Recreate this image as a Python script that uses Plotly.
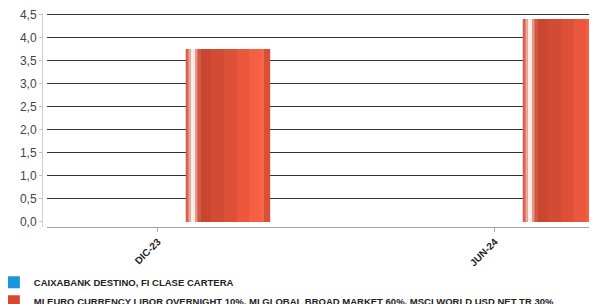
import plotly.graph_objects as go

categories = ["DIC-23", "JUN-24"]
series_names = ["CAIXABANK DESTINO, FI CLASE CARTERA",
                "MI EURO CURRENCY LIBOR OVERNIGHT 10%, MI GLOBAL BROAD MARKET 60%, MSCI WORLD USD NET TR 30%"]
fund_values = [None, None]
benchmark_values = [3.76, 4.41]
y_ticks = [0, 0.5, 1.0, 1.5, 2.0, 2.5, 3.0, 3.5, 4.0, 4.5]

BAR_OFF = 0.083
BAR_W = 0.25
# gradient strips (start fraction, end fraction, colour)
strips = [
    (0.00, 0.03, "#d8604f"),
    (0.03, 0.06, "#eca69c"),
    (0.06, 0.11, "#fdeeea"),
    (0.11, 0.14, "#e99a8c"),
    (0.14, 0.18, "#d05a45"),
    (0.18, 0.30, "#c94631"),
    (0.30, 0.45, "#d24b34"),
    (0.45, 0.60, "#dd5038"),
    (0.60, 0.75, "#ea573c"),
    (0.75, 0.87, "#f65f43"),
    (0.87, 0.93, "#f96547"),
    (0.93, 1.00, "#d9503a"),
]

fig = go.Figure()
fig.add_trace(go.Bar(x=categories, y=fund_values, name=series_names[0],
                     marker=dict(color="#1a96dc", line=dict(width=0)),
                     offset=BAR_OFF - BAR_W, width=BAR_W))
fig.add_trace(go.Bar(x=categories, y=benchmark_values, name=series_names[1],
                     marker=dict(color="#d9472f", line=dict(width=0)),
                     offset=BAR_OFF, width=BAR_W, hoverinfo="y"))
for a, b, c in strips:
    fig.add_trace(go.Bar(x=categories, y=benchmark_values, showlegend=False,
                         marker=dict(color=c, line=dict(width=0)),
                         offset=BAR_OFF + a * BAR_W, width=(b - a) * BAR_W,
                         hoverinfo="skip"))

W, H = 589, 296
fig.update_layout(
    width=W, height=H,
    barmode="overlay",
    separators=", ",
    plot_bgcolor="white", paper_bgcolor="white",
    margin=dict(l=0, r=0, t=5, b=77, autoexpand=False),
    font=dict(family="Liberation Sans, Arial, sans-serif", color="#333"),
    xaxis=dict(
        type="category", domain=[39 / W, 1], range=[-0.329, 1.303],
        showgrid=False, showline=True, linecolor="#a0a0a0", linewidth=1,
        ticks="outside", ticklen=4, tickcolor="#b0b0b0", tickangle=-45,
        tickfont=dict(size=10, color="#222", weight="bold"),
        automargin=False, zeroline=False,
    ),
    yaxis=dict(
        range=[-0.109, 4.543], anchor="free", position=34 / W,
        tickvals=y_ticks, tickformat=".1f",
        showgrid=False, zeroline=False,
        showline=True, linecolor="#d0d0d0", linewidth=1,
        ticks="outside", ticklen=3, tickcolor="#c0c0c0",
        tickfont=dict(size=12, color="#444"),
        minor=dict(tickvals=y_ticks[1:], showgrid=True, gridcolor="#333", gridwidth=1.3, ticks=""),
        automargin=False,
    ),
    legend=dict(x=-0.024, y=-0.19, xanchor="left", yanchor="top", orientation="v",
                font=dict(size=9.5, color="#222", weight="bold"),
                tracegroupgap=0, itemwidth=30),
    showlegend=True,
)
fig.write_html("out.html")
